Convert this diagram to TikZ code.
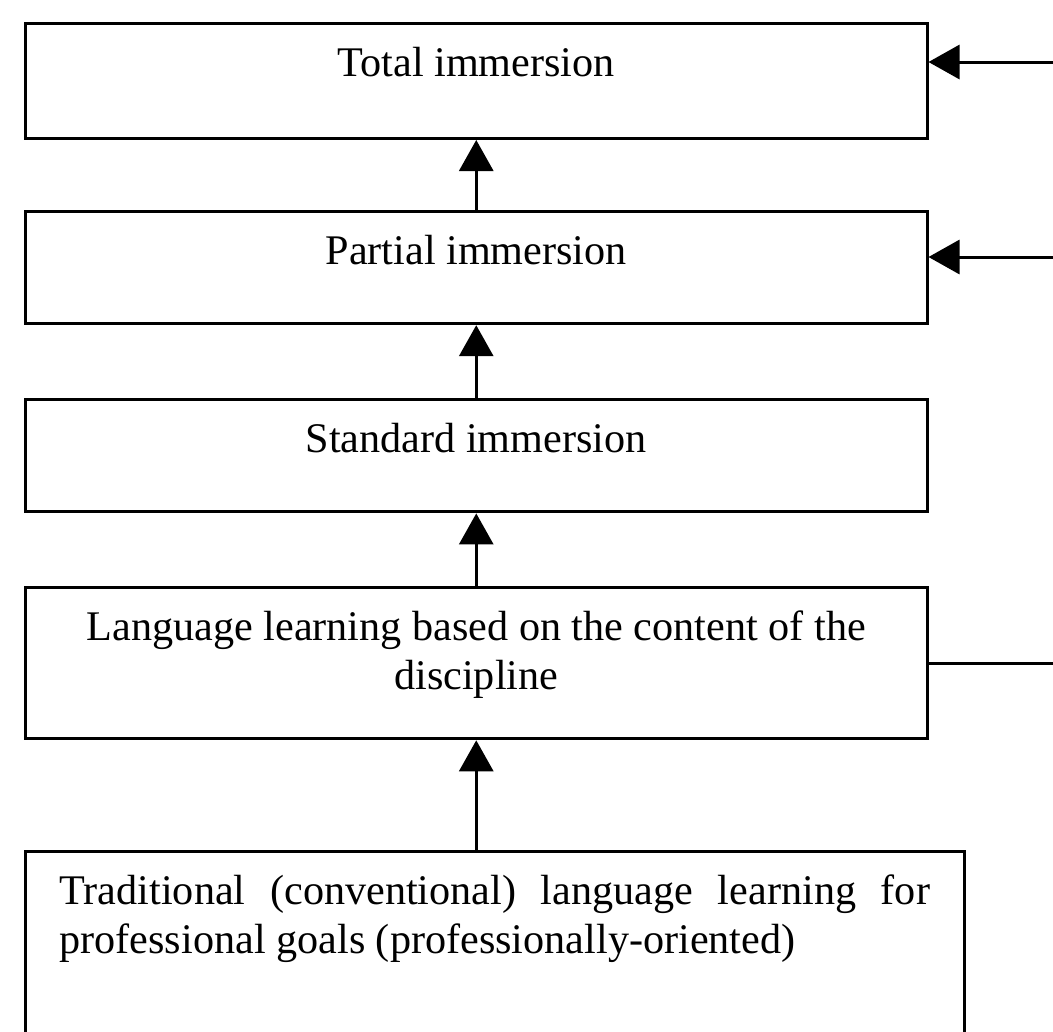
\documentclass[tikz,border=0pt]{standalone}
\usepackage{fontspec}
\setmainfont{Liberation Serif}
\usepackage{tikz}
\usetikzlibrary{arrows.meta,positioning}

\begin{document}
\begin{tikzpicture}[x=0.01cm, y=-0.01cm,
	stagebox/.style={draw, rectangle, line width=0.85pt, inner xsep=0.34cm, inner ysep=0pt, text width=8.33cm, align=center, text height=15pt, text depth=#1, font=\fontsize{12pt}{13.8pt}\selectfont},
	tightspace/.style={execute at begin node={\spaceskip=\fontdimen2\font\xspaceskip=\fontdimen2\font\relax}},
	uparrow/.style={line width=0.85pt, -{Triangle[length=0.31cm,width=0.34cm]}}]
	\useasboundingbox (0,0) rectangle (1053,1032);

	\node[stagebox=17.7pt, tightspace, anchor=north west] (total) at (24,22) {Total immersion};
	\node[stagebox=16.9pt, tightspace, below=0.70cm of total] (partial) {Partial immersion};
	\node[stagebox=16.9pt, tightspace, below=0.73cm of partial] (standard) {Standard immersion};
	\node[stagebox=27.9pt, tightspace, below=0.73cm of standard] (lang) {Language learning based on the content of the\\discipline};
	\node[stagebox=40.5pt, text width=8.70cm, align=justify, anchor=north west] (trad) at ([yshift=-1.10cm]lang.south west) {Traditional (conventional) language learning for\linebreak professional goals (professionally-oriented)};

	\coordinate (in1) at (1053,62);
	\coordinate (in2) at (1053,257);
	\coordinate (out4) at (1053,0);

	\path[uparrow] (partial) edge (total);
	\path[uparrow] (standard) edge (partial);
	\path[uparrow] (lang) edge (standard);
	\path[uparrow] (lang.south |- trad.north) edge (lang.south);
	\path[uparrow] (in1) edge (in1 -| total.east);
	\path[uparrow] (in2) edge (in2 -| partial.east);
	\path[line width=0.85pt] (lang.east) edge (lang.east -| out4);
\end{tikzpicture}
\end{document}
